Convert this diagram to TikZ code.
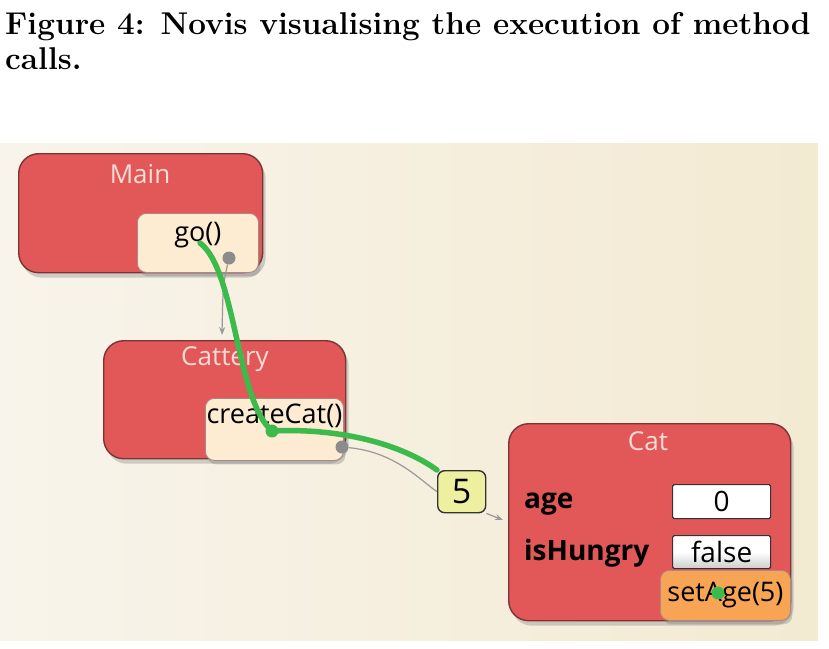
\documentclass[tikz,border=0pt]{standalone}
\usepackage{fontspec}
\usepackage{xcolor}
\usepackage{tikz}
\usetikzlibrary{shadows,arrows.meta}
\newfontfamily\uifont{Open Sans}
\definecolor{objred}{HTML}{E25858}
\definecolor{objedge}{HTML}{7A3434}
\definecolor{titlepink}{HTML}{F8DCD6}
\definecolor{methodcream}{HTML}{FDEBD2}
\definecolor{argorange}{HTML}{F8A455}
\definecolor{valueyellow}{HTML}{EEF0A0}
\definecolor{trailgreen}{HTML}{3DBA4C}
\definecolor{bgleft}{HTML}{F8F4EB}
\definecolor{bgright}{HTML}{F3EAD2}

\begin{document}
\begin{tikzpicture}[x=1pt,y=-1pt,%
% common options for the objects:
object/.style = {draw=objedge, fill=objred, rounded corners=20pt, anchor=north west,
            line width=1.4pt, inner sep=0,
            drop shadow={shadow xshift=3pt, shadow yshift=-5pt, opacity=0.35}},
% common options for the method boxes:
method/.style = {draw=objedge!60, fill=methodcream, rounded corners=9pt, anchor=north west,
            line width=0.8pt, inner sep=0, font=\uifont\fontsize{27}{30}\selectfont,
            drop shadow={shadow xshift=2pt, shadow yshift=-4pt, opacity=0.35}},
% common options for the fields:
field/.style = {draw=black!80, fill=white, rounded corners=1.5pt, anchor=north west,
            line width=1.2pt, inner sep=0, font=\uifont\fontsize{28}{30}\selectfont},
title/.style = {text=titlepink, font=\uifont\fontsize{26}{30}\selectfont},
fieldname/.style = {anchor=west, inner sep=0, font=\uifont\bfseries\fontsize{28}{30}\selectfont},
port/.style = {circle, fill=black!45, inner sep=0, minimum size=13pt},
gdot/.style = {circle, fill=trailgreen, inner sep=0, minimum size=13pt},
link/.style = {draw=black!40, line width=1.2pt, -{Stealth[length=8pt,width=6pt]}},
trail/.style = {draw=trailgreen, line width=5.5pt, line cap=round}]
\useasboundingbox (0,0) rectangle (829,648);
% caption
\node[anchor=base west, inner sep=0, font=\bfseries\fontsize{31.5}{36}\selectfont] (cap1) at (5,34) {Figure 4: Novis visualising the execution of method};
\node[anchor=base west, inner sep=0, font=\bfseries\fontsize{31.5}{36}\selectfont] (cap2) at (5,69) {calls.};
% screen background
\shade[left color=bgleft, right color=bgright] (0,143) rectangle (818,640);
% objects
\node[object, minimum width=244pt, minimum height=119pt] (Main) at (18,153) {};
\node[title] (MainT) at (140,174) {Main};
\node[object, minimum width=242pt, minimum height=118pt] (Cattery) at (103,340) {};
\node[title] (CatteryT) at (225,359) {Cattery};
\node[object, minimum width=282pt, minimum height=197pt] (Cat) at (508,423) {};
\node[title] (CatT) at (648,441) {Cat};
% methods
\node[method, minimum width=121pt, minimum height=59pt, text height=14pt, text depth=16pt] (go) at (137,213) {go()};
\node[method, minimum width=138pt, minimum height=62pt, text height=14pt, text depth=26pt] (create) at (205,398) {createCat()};
\node[method, fill=argorange, minimum width=130pt, minimum height=50pt] (setAge) at (660,570) {setAge(5)};
% fields of Cat
\node[fieldname] (age) at (524,504) {age};
\node[fieldname] (hungry) at (524,553) {isHungry};
\node[field, minimum width=98pt, minimum height=34pt] (ageV) at (672,484) {0};
\node[field, minimum width=98pt, minimum height=33pt, bottom color=black!20, top color=white, middle color=white] (hungryV) at (672,535) {false};
% argument
\node[draw=black!80, fill=valueyellow, rounded corners=7pt, anchor=north west, line width=1.4pt,
      inner sep=0, minimum width=48pt, minimum height=42pt, font=\uifont\fontsize{34}{36}\selectfont] (five) at (437,470) {5};
% ports
\node[port] (goP) at (229,258) {};
\node[port] (createP) at (342,447) {};
\coordinate (catIn) at (503,520);
\coordinate (catteryIn) at (222,335);
\draw[link] (goP) .. controls (223,285) .. (catteryIn);
\draw[draw=black!40, line width=1.2pt] (createP) .. controls (395,452) and (420,480) .. (five.west);
\draw[link] (five.south east) -- (catIn);
% execution trail
\coordinate (g0) at (200,243);
\node[gdot] (g1) at (272,431) {};
\node[gdot] (g2) at (718,593) {};
\draw[trail] (g0) .. controls (236,270) and (236,400) .. (g1.center)
      .. controls (330,428) and (395,440) .. (five.north west);
\end{tikzpicture}
\end{document}
